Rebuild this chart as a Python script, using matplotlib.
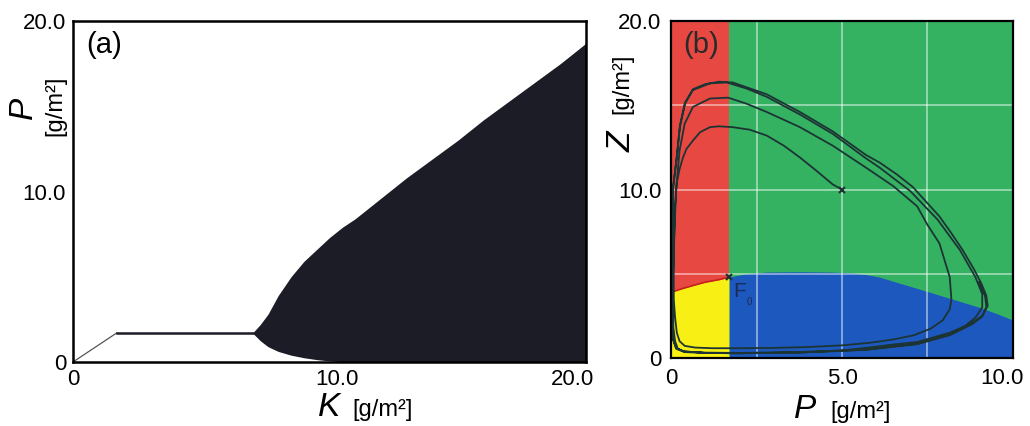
import matplotlib.pyplot as plt
from matplotlib.transforms import ScaledTranslation

plt.rcParams['font.family'] = ['Liberation Sans', 'DejaVu Sans']

# ---- panel (a): bifurcation diagram, P against K ----
k_line = [0.0, 1.7, 7.0]
p_line = [0.0, 1.7, 1.7]

k_env = [7.0, 7.3, 7.6, 8.0, 8.5, 9.0, 9.5, 10.0, 10.5, 11.0, 12.0, 13.0, 14.0, 15.0,
         16.0, 17.0, 18.0, 19.0, 20.0]
p_upper = [1.7, 2.2, 2.8, 3.9, 5.0, 5.9, 6.6, 7.3, 7.9, 8.4, 9.6, 10.8, 11.9, 13.0,
           14.2, 15.3, 16.4, 17.5, 18.7]
p_lower = [1.7, 1.25, 0.9, 0.62, 0.4, 0.25, 0.14, 0.06, 0.02, 0.0, 0.0, 0.0, 0.0, 0.0,
           0.0, 0.0, 0.0, 0.0, 0.0]

# ---- panel (b): phase plane, Z against P ----
p_f = 1.7          # P of the threshold line / point F
z_f = 4.8
yellow_p = [0.0, 0.3, 0.64, 1.0, 1.4, 1.7]
yellow_z = [3.9, 4.1, 4.3, 4.5, 4.65, 4.8]
blue_p = [1.7, 2.2, 2.8, 3.8, 4.7, 5.3, 5.7, 6.1, 6.5, 7.0, 7.57, 8.3, 9.03, 9.5, 10.0]
blue_z = [4.8, 5.0, 5.1, 5.12, 5.1, 5.05, 4.95, 4.8, 4.55, 4.25, 3.9, 3.45, 3.0, 2.65,
          2.25]

start_p, start_z = 5.0, 10.0

# first transit from the start point, then the inner loop
loop1_p = [5.0, 4.73, 4.2, 3.77, 3.3, 2.8, 2.3, 1.8, 1.4, 1.14, 0.85, 0.64, 0.45, 0.35,
           0.25, 0.17, 0.12, 0.09, 0.07, 0.08, 0.12, 0.17, 0.25, 0.4, 0.7, 1.2, 2.0,
           3.0, 4.0, 5.0, 5.8, 6.5, 7.1, 7.6, 7.95, 8.15, 8.2, 8.15, 7.85, 7.5, 7.2]
loop1_z = [10.0, 10.3, 11.2, 11.9, 12.6, 13.2, 13.55, 13.7, 13.75, 13.7, 13.4, 12.9,
           12.4, 11.9, 11.2, 10.4, 9.0, 7.0, 5.0, 3.5, 2.4, 1.5, 1.0, 0.72, 0.62, 0.58,
           0.58, 0.6, 0.65, 0.75, 0.9, 1.1, 1.35, 1.75, 2.25, 2.9, 3.45, 4.8, 6.8, 7.9,
           9.0]
# middle arc and the next bottom pass
loop2_p = [6.5, 5.7, 4.73, 3.77, 2.8, 2.2, 1.67, 1.14, 0.64, 0.4, 0.25, 0.15, 0.1, 0.07,
           0.06, 0.07, 0.12, 0.2, 0.4, 1.0, 2.0, 3.77, 5.0, 5.7, 6.5, 7.2, 7.8, 8.15,
           8.6, 8.9, 9.1, 9.1, 8.9, 8.45, 7.8, 7.0]
loop2_z = [10.2, 11.3, 12.6, 13.7, 14.6, 15.1, 15.45, 15.4, 14.9, 13.9, 12.3, 10.0, 7.5,
           5.0, 3.0, 1.8, 1.0, 0.55, 0.38, 0.32, 0.3, 0.36, 0.45, 0.6, 0.8, 0.95, 1.3,
           1.5, 1.9, 2.4, 3.0, 3.8, 4.8, 6.4, 8.2, 9.9]
# outer cycle, run twice
loop3_p = [6.1, 5.7, 4.73, 3.77, 2.8, 2.2, 1.63, 1.14, 0.64, 0.41, 0.26, 0.17, 0.06,
           0.04, 0.03, 0.04, 0.07, 0.15, 0.35, 1.0, 2.0, 3.77, 5.7, 7.2, 8.15, 8.8,
           9.1, 9.26, 9.22, 9.08, 8.85, 8.53, 8.2, 7.85, 7.45, 7.07, 6.6, 6.1, 5.7, 4.73,
           3.77, 2.8, 1.81, 1.4, 1.0, 0.64, 0.41, 0.26, 0.17, 0.06, 0.03, 0.03, 0.06,
           0.15, 0.4, 1.0, 2.0, 3.77, 5.7, 7.2, 8.15, 8.8, 9.1, 9.22, 9.18, 9.0]
loop3_z = [11.3, 11.85, 13.3, 14.45, 15.5, 16.0, 16.35, 16.3, 15.9, 15.1, 13.7, 11.9,
           10.1, 7.0, 4.0, 2.0, 1.05, 0.6, 0.4, 0.3, 0.28, 0.33, 0.5, 0.85, 1.4, 2.1,
           2.5, 3.1, 3.7, 4.4, 5.3, 6.4, 7.4, 8.4, 9.3, 10.15, 10.9, 11.6, 12.05, 13.45,
           14.6, 15.65, 16.35, 16.4, 16.25, 15.95, 15.15, 13.8, 12.0, 10.1, 5.0, 2.0,
           1.1, 0.55, 0.35, 0.3, 0.28, 0.32, 0.48, 0.82, 1.35, 2.0, 2.45, 3.05, 3.7,
           4.5]

traj_p = loop1_p + loop2_p + loop3_p
traj_z = loop1_z + loop2_z + loop3_z

W, H = 1030, 426
fig = plt.figure(figsize=(W / 100, H / 100), dpi=100)


def box(l, t, r, b):
    return [l / W, 1 - b / H, (r - l) / W, (b - t) / H]


def fx(x):
    return x / W


def fy(y):
    return 1 - y / H


def shift(label, dx):
    # nudge a tick label sideways by dx pixels
    label.set_transform(label.get_transform() +
                        ScaledTranslation(dx / 100, 0, fig.dpi_scale_trans))


###############
# Panel (a)   #
###############
ax1 = fig.add_axes(box(73, 21, 586, 362))
ax1.plot(k_line[:2], p_line[:2], color='#555555', lw=0.9)
ax1.plot(k_line[1:], p_line[1:], color='#1b1c26', lw=1.8)
ax1.fill_between(k_env, p_lower, p_upper, color='#1b1c26', lw=0)
ax1.set_xlim(0, 20)
ax1.set_ylim(0, 20)
ax1.set_xticks([0, 10, 20], ['0', '10.0', '20.0'])
ax1.set_yticks([0, 10, 20], ['0', '10.0', '20.0'])
ax1.tick_params(length=0, labelsize=16, pad=5)
xl = ax1.get_xticklabels()
shift(xl[1], 7)
shift(xl[2], -13)
for s in ax1.spines.values():
    s.set_linewidth(1.8)
ax1.text(0.025, 0.97, '(a)', transform=ax1.transAxes, fontsize=21, va='top', ha='left')

fig.text(fx(23), fy(108), 'P', fontsize=24, style='italic', rotation=90,
         ha='center', va='center')
fig.text(fx(55), fy(106), '[g/m²]', fontsize=17, rotation=90, ha='center', va='center')
fig.text(fx(329), fy(408), 'K', fontsize=24, style='italic', ha='center', va='center')
fig.text(fx(383), fy(410), '[g/m²]', fontsize=17, ha='center', va='center')

###############
# Panel (b)   #
###############
ax2 = fig.add_axes(box(671, 21, 1013, 358))
ax2.set_facecolor('#34b262')
ax2.fill_between([0, p_f], 0, 20, color='#e84842', lw=0)
ax2.fill_between(yellow_p, 0, yellow_z, color='#f8f014', lw=0)
ax2.fill_between(blue_p, 0, blue_z, color='#1c58be', lw=0)
for g in [2.5, 5.0, 7.5]:
    ax2.axvline(g, color='white', alpha=0.55, lw=1.2)
for g in [5, 10, 15]:
    ax2.axhline(g, color='white', alpha=0.55, lw=1.2)
ax2.plot(yellow_p, yellow_z, color='#c8201c', lw=1.2)
ax2.plot(traj_p, traj_z, color='#1d3434', lw=1.3)
ax2.plot([start_p], [start_z], marker='x', color='#1d3434', ms=5, mew=1.5)
ax2.plot([p_f], [z_f], marker='x', color='#1d3434', ms=5, mew=1.5)
ax2.text(p_f + 0.12, z_f - 0.3, 'F', fontsize=15, color='#1b2c55', va='top', ha='left')
ax2.text(p_f + 0.52, z_f - 1.2, '0', fontsize=7, color='#1b2c55', va='top', ha='left')
ax2.set_xlim(0, 10)
ax2.set_ylim(0, 20)
ax2.set_xticks([0, 5, 10], ['0', '5.0', '10.0'])
ax2.set_yticks([0, 10, 20], ['0', '10.0', '20.0'])
ax2.tick_params(length=0, labelsize=16, pad=7)
shift(ax2.get_xticklabels()[2], -11)
for s in ax2.spines.values():
    s.set_linewidth(1.6)
ax2.text(0.035, 0.97, '(b)', transform=ax2.transAxes, fontsize=21, va='top', ha='left',
         color='#2a2a2a')

fig.text(fx(622), fy(142), 'Z', fontsize=24, style='italic', rotation=90,
         ha='center', va='center')
fig.text(fx(622), fy(84), '[g/m²]', fontsize=17, rotation=90, ha='center', va='center')
fig.text(fx(805), fy(410), 'P', fontsize=24, style='italic', ha='center', va='center')
fig.text(fx(861), fy(412), '[g/m²]', fontsize=17, ha='center', va='center')

fig.savefig('out.png', dpi=100)
